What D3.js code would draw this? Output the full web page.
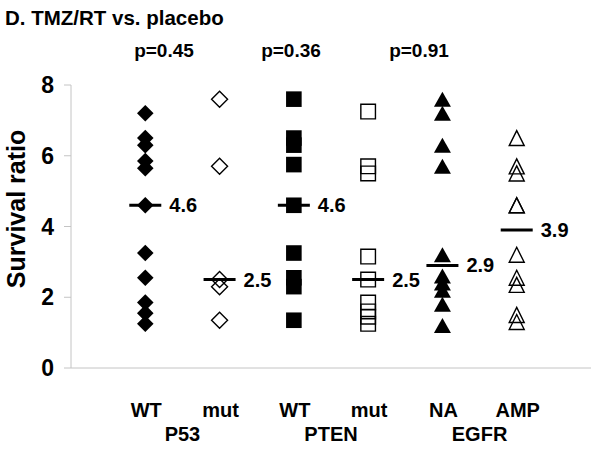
<!DOCTYPE html>
<html>
<head>
<meta charset="utf-8">
<script src="https://cdn.jsdelivr.net/npm/d3@7"></script>
<style>
    body { margin: 0; background: #fff; }
    text { font-family: "Liberation Sans", Arial, sans-serif; font-weight: bold; fill: #000; }
</style>
</head>
<body>
<svg id="chart"></svg>
<script>
/*global d3*/

// values
var categories = ["WT", "mut", "WT", "mut", "NA", "AMP"];
var groups = ["P53", "PTEN", "EGFR"];
var pValues = ["p=0.45", "p=0.36", "p=0.91"];
var yTicks = [0, 2, 4, 6, 8];

var p53WT = [7.2, 6.5, 6.3, 5.85, 5.65, 4.6, 3.25, 2.55, 1.85, 1.55, 1.25];
var p53Mut = [7.6, 5.7, 2.5, 2.3, 1.35];
var ptenWT = [7.6, 6.5, 6.3, 5.75, 4.6, 3.25, 2.55, 2.3, 1.35];
var ptenMut = [7.25, 5.7, 5.5, 3.15, 2.5, 1.85, 1.6, 1.45, 1.25];
var egfrNA = [7.6, 7.2, 6.3, 5.7, 3.2, 2.6, 2.4, 2.2, 1.8, 1.2];
var egfrAMP = [6.5, 5.7, 5.5, 4.6, 4.6, 3.2, 2.55, 2.35, 1.5, 1.3];
var medians = [4.6, 2.5, 4.6, 2.5, 2.9, 3.9];

var series = [p53WT, p53Mut, ptenWT, ptenMut, egfrNA, egfrAMP];

var width = 600, height = 451;
var svg = d3.select("#chart").attr("width", width).attr("height", height);

var x = d3.scalePoint().domain(d3.range(categories.length)).range([71, 591]).padding(1);
var y = d3.scaleLinear().domain([0, 8]).range([368, 85]);

// marker shapes
function diamond(r) {
    return "M0," + (-r) + "L" + r + ",0L0," + r + "L" + (-r) + ",0Z";
}
function square(r) {
    return "M" + (-r) + "," + (-r) + "H" + r + "V" + r + "H" + (-r) + "Z";
}
function triangle(w, h) {
    return "M0," + (-h / 2) + "L" + (w / 2) + "," + (h / 2) + "L" + (-w / 2) + "," + (h / 2) + "Z";
}
var markers = [
    {d: diamond(8.3), fill: true},
    {d: diamond(8), fill: false},
    {d: square(7.8), fill: true},
    {d: square(7.3), fill: false},
    {d: triangle(17, 15), fill: true},
    {d: triangle(15, 15), fill: false}
];

// title
svg.append("text")
    .attr("x", 5).attr("y", 25)
    .style("font-size", "20.5px")
    .text("D. TMZ/RT vs. placebo");

// p values
var pX = [164, 291, 419];
svg.selectAll(".pval")
    .data(pValues)
    .enter().append("text")
    .attr("class", "pval")
    .attr("x", function (d, i) { return pX[i]; })
    .attr("y", 57)
    .attr("text-anchor", "middle")
    .style("font-size", "19px")
    .text(function (d) { return d; });

// axes
var axisColor = "#c4c4c4";
svg.append("line")
    .attr("x1", 71).attr("x2", 591)
    .attr("y1", y(0)).attr("y2", y(0))
    .attr("stroke", axisColor);
svg.append("line")
    .attr("x1", 71).attr("x2", 71)
    .attr("y1", y(0)).attr("y2", y(8))
    .attr("stroke", axisColor);
svg.selectAll(".tick")
    .data(yTicks)
    .enter().append("line")
    .attr("x1", 64).attr("x2", 71)
    .attr("y1", function (d) { return y(d); })
    .attr("y2", function (d) { return y(d); })
    .attr("stroke", axisColor);
svg.selectAll(".ticklabel")
    .data(yTicks)
    .enter().append("text")
    .attr("x", 54)
    .attr("y", function (d) { return y(d) + 8; })
    .attr("text-anchor", "end")
    .style("font-size", "23px")
    .text(function (d) { return d; });

svg.append("text")
    .attr("transform", "translate(25,209) rotate(-90)")
    .attr("text-anchor", "middle")
    .style("font-size", "25px")
    .text("Survival ratio");

// category labels
svg.selectAll(".cat")
    .data(categories)
    .enter().append("text")
    .attr("x", function (d, i) { return x(i) + 1; })
    .attr("y", 417)
    .attr("text-anchor", "middle")
    .style("font-size", "20px")
    .text(function (d) { return d; });

svg.selectAll(".grp")
    .data(groups)
    .enter().append("text")
    .attr("x", function (d, i) { return (x(2 * i) + x(2 * i + 1)) / 2; })
    .attr("y", 441)
    .attr("text-anchor", "middle")
    .style("font-size", "20px")
    .text(function (d) { return d; });

// points
series.forEach(function (vals, i) {
    var m = markers[i];
    svg.append("g")
        .selectAll("path")
        .data(vals)
        .enter().append("path")
        .attr("d", m.d)
        .attr("transform", function (d) { return "translate(" + x(i) + "," + y(d) + ")"; })
        .attr("fill", m.fill ? "#000" : "none")
        .attr("stroke", "#000")
        .attr("stroke-width", m.fill ? 0 : 1.4);
});

// median lines and labels
svg.selectAll(".med")
    .data(medians)
    .enter().append("line")
    .attr("x1", function (d, i) { return x(i) - 16; })
    .attr("x2", function (d, i) { return x(i) + 16; })
    .attr("y1", function (d) { return y(d); })
    .attr("y2", function (d) { return y(d); })
    .attr("stroke", "#000")
    .attr("stroke-width", 3);

svg.selectAll(".medlabel")
    .data(medians)
    .enter().append("text")
    .attr("x", function (d, i) { return x(i) + 24; })
    .attr("y", function (d) { return y(d) + 7; })
    .style("font-size", "20px")
    .text(function (d) { return d3.format(".1f")(d); });
</script>
</body>
</html>
